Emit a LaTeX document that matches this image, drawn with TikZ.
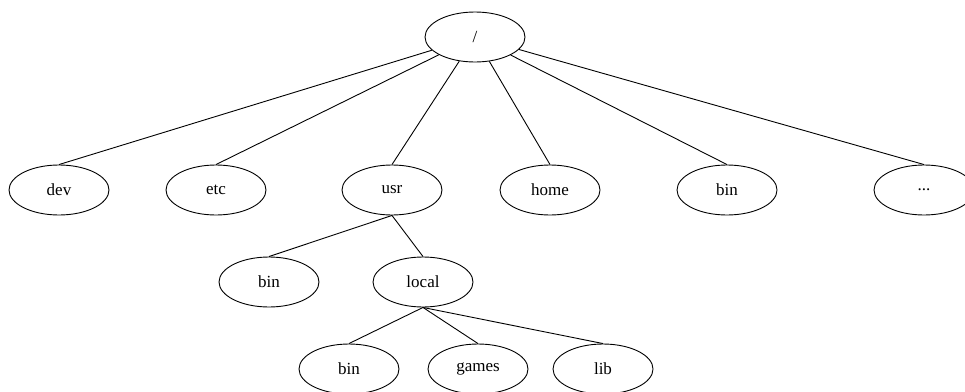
\documentclass[tikz,border=0pt]{standalone}
\usepackage{fontspec}
\setmainfont{Liberation Serif}
\usetikzlibrary{shapes.geometric}
\begin{document}
\begin{tikzpicture}[x=1pt,y=-1pt,line width=0.9pt,
        dir/.style={draw, shape = ellipse, minimum width = 100pt, minimum height = 50pt, inner sep=0pt, font=\fontsize{17}{20}\selectfont}]
        \useasboundingbox (0,0) rectangle (965,391);

        \node [dir] (root) at (475,37) {/};

        \node [dir] (dev) at (59,190) {dev};
        \node [dir] (etc) at (216,190) {etc};
        \node [dir] (usr) at (392,190) {usr};
        \node [dir] (home) at (550,190) {home};
        \node [dir] (bin) at (727,190) {bin};
        \node [dir] (more) at (924,190) {...};

        \node [dir] (usrbin) at (269,282) {bin};
        \node [dir] (local) at (423,282) {local};

        \node [dir] (localbin) at (349,369) {bin};
        \node [dir] (games) at (478,369) {games};
        \node [dir] (lib) at (603,369) {lib};

        \draw (root)--(dev.north);
        \draw (root)--(etc.north);
        \draw (root)--(usr.north);
        \draw (root)--(home.north);
        \draw (root)--(bin.north);
        \draw (root)--(more.north);
        \draw (usr.south)--(usrbin.north);
        \draw (usr.south)--(local.north);
        \draw (local.south)--(localbin.north);
        \draw (local.south)--(games.north);
        \draw (local.south)--(lib.north);
    \end{tikzpicture}
\end{document}
